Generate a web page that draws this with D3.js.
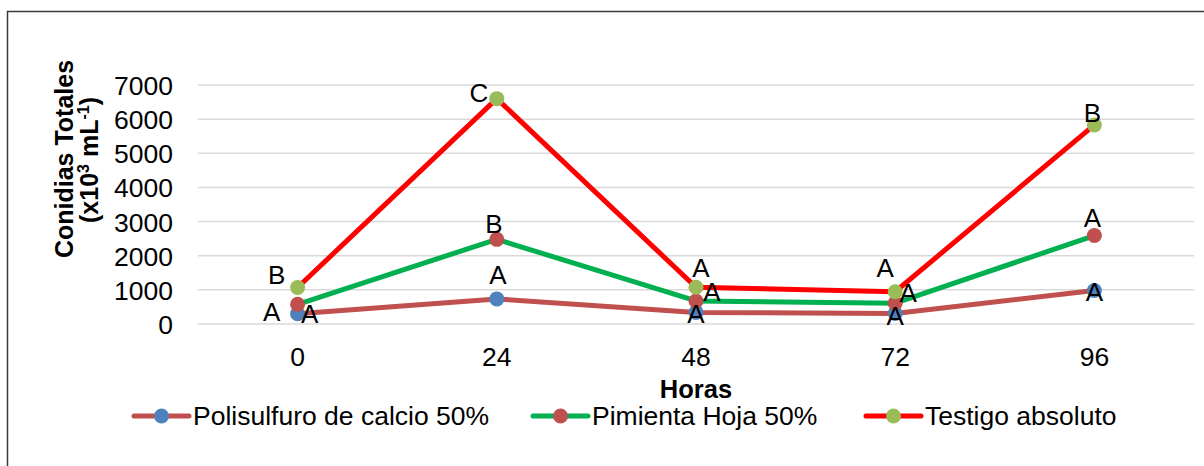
<!DOCTYPE html>
<html>
<head>
<meta charset="utf-8">
<script src="https://cdn.jsdelivr.net/npm/d3@7"></script>
<style>
  html, body { margin: 0; padding: 0; background: #fff; }
  svg { display: block; font-family: "Liberation Sans", Arial, sans-serif; }
</style>
</head>
<body>
<svg id="chart" width="1204" height="466"></svg>
<script>
// Sampling times (hours)
const categories = ["0", "24", "48", "72", "96"];

// Total conidia (x10^3 mL^-1) per treatment
const polisulfuro = [300, 735, 340, 310, 980];
const pimienta = [575, 2480, 675, 610, 2590];
const testigo = [1070, 6600, 1075, 945, 5830];

// Mean separation letters per treatment
const lettersPolisulfuro = ["A", "A", "A", "A", "A"];
const lettersPimienta = ["A", "B", "A", "A", "A"];
const lettersTestigo = ["B", "C", "A", "A", "B"];

const seriesNames = ["Polisulfuro de calcio 50%", "Pimienta Hoja 50%", "Testigo absoluto"];
const yTicks = [0, 1000, 2000, 3000, 4000, 5000, 6000, 7000];

// Styling per series
const styles = [
  { line: "#C0504D", marker: "#4F81BD" },
  { line: "#00B050", marker: "#C0504D" },
  { line: "#FF0000", marker: "#9BBB59" }
];

// Label nudges (px) relative to each marker
const labelNudge = [
  [[12, 0], [1, -24], [0, 1], [0, 2], [0, 1]],
  [[-26, 7], [-3, -16], [16, -9], [13, -11], [-2, -18]],
  [[-21, -13], [-18, -6], [5, -20], [-10, -24], [-2, -12]]
];

const series = [
  { name: seriesNames[0], values: polisulfuro, letters: lettersPolisulfuro },
  { name: seriesNames[1], values: pimienta, letters: lettersPimienta },
  { name: seriesNames[2], values: testigo, letters: lettersTestigo }
];

const svg = d3.select("#chart");

// Chart frame
svg.append("rect")
  .attr("x", 7.5).attr("y", 11.5)
  .attr("width", 1240).attr("height", 500)
  .attr("fill", "none")
  .attr("stroke", "#3a3a3a")
  .attr("stroke-width", 1.5);

const x = d3.scaleBand().domain(categories).range([198, 1194]);
const xc = c => x(c) + x.bandwidth() / 2;
const y = d3.scaleLinear().domain([0, 7000]).range([324, 85]);

// Horizontal gridlines
svg.append("g").selectAll("line")
  .data(yTicks)
  .join("line")
  .attr("x1", 198).attr("x2", 1194)
  .attr("y1", d => y(d)).attr("y2", d => y(d))
  .attr("stroke", "#D9D9D9")
  .attr("stroke-width", 1.5);

// Y tick labels
svg.append("g").selectAll("text")
  .data(yTicks)
  .join("text")
  .attr("x", 173)
  .attr("y", d => y(d) + 10)
  .attr("text-anchor", "end")
  .attr("font-size", 26.5)
  .attr("fill", "#000")
  .text(d => d);

// X tick labels
svg.append("g").selectAll("text")
  .data(categories)
  .join("text")
  .attr("x", d => xc(d))
  .attr("y", 366)
  .attr("text-anchor", "middle")
  .attr("font-size", 26.5)
  .attr("fill", "#000")
  .text(d => d);

// Axis titles
svg.append("text")
  .attr("x", xc("48"))
  .attr("y", 398)
  .attr("text-anchor", "middle")
  .attr("font-size", 25.5)
  .attr("font-weight", "bold")
  .text("Horas");

svg.append("text")
  .attr("transform", "translate(73,159) rotate(-90)")
  .attr("text-anchor", "middle")
  .attr("font-size", 25)
  .attr("font-weight", "bold")
  .text("Conidias Totales");

const yt2 = svg.append("text")
  .attr("transform", "translate(98,160) rotate(-90)")
  .attr("text-anchor", "middle")
  .attr("font-size", 25)
  .attr("font-weight", "bold");
yt2.append("tspan").text("(x10");
yt2.append("tspan").attr("dy", -9).attr("font-size", 16).text("3");
yt2.append("tspan").attr("dy", 9).text(" mL");
yt2.append("tspan").attr("dy", -9).attr("font-size", 16).text("-1");
yt2.append("tspan").attr("dy", 9).text(")");

// Lines and markers
const line = d3.line()
  .x((d, i) => xc(categories[i]))
  .y(d => y(d));

series.forEach((s, k) => {
  const g = svg.append("g");
  g.append("path")
    .attr("d", line(s.values))
    .attr("fill", "none")
    .attr("stroke", styles[k].line)
    .attr("stroke-width", 5)
    .attr("stroke-linejoin", "round")
    .attr("stroke-linecap", "round");
  g.selectAll("circle")
    .data(s.values)
    .join("circle")
    .attr("cx", (d, i) => xc(categories[i]))
    .attr("cy", d => y(d))
    .attr("r", 7.5)
    .attr("fill", styles[k].marker);
});

// Letter labels
series.forEach((s, k) => {
  svg.append("g").selectAll("text")
    .data(s.values)
    .join("text")
    .attr("x", (d, i) => xc(categories[i]) + labelNudge[k][i][0])
    .attr("y", (d, i) => y(d) + labelNudge[k][i][1] + 9.5)
    .attr("text-anchor", "middle")
    .attr("font-size", 26)
    .attr("fill", "#000")
    .text((d, i) => s.letters[i]);
});

// Legend
const legendX = [134, 533, 866];
const legend = svg.append("g").selectAll("g")
  .data(series)
  .join("g")
  .attr("transform", (d, i) => `translate(${legendX[i]},416)`);
legend.append("line")
  .attr("x1", 0).attr("x2", 55)
  .attr("stroke", (d, i) => styles[i].line)
  .attr("stroke-width", 5)
  .attr("stroke-linecap", "round");
legend.append("circle")
  .attr("cx", 27.5).attr("r", 7.5)
  .attr("fill", (d, i) => styles[i].marker);
legend.append("text")
  .attr("x", 59).attr("y", 9)
  .attr("font-size", 26.5)
  .attr("fill", "#000")
  .text(d => d.name);
</script>
</body>
</html>
